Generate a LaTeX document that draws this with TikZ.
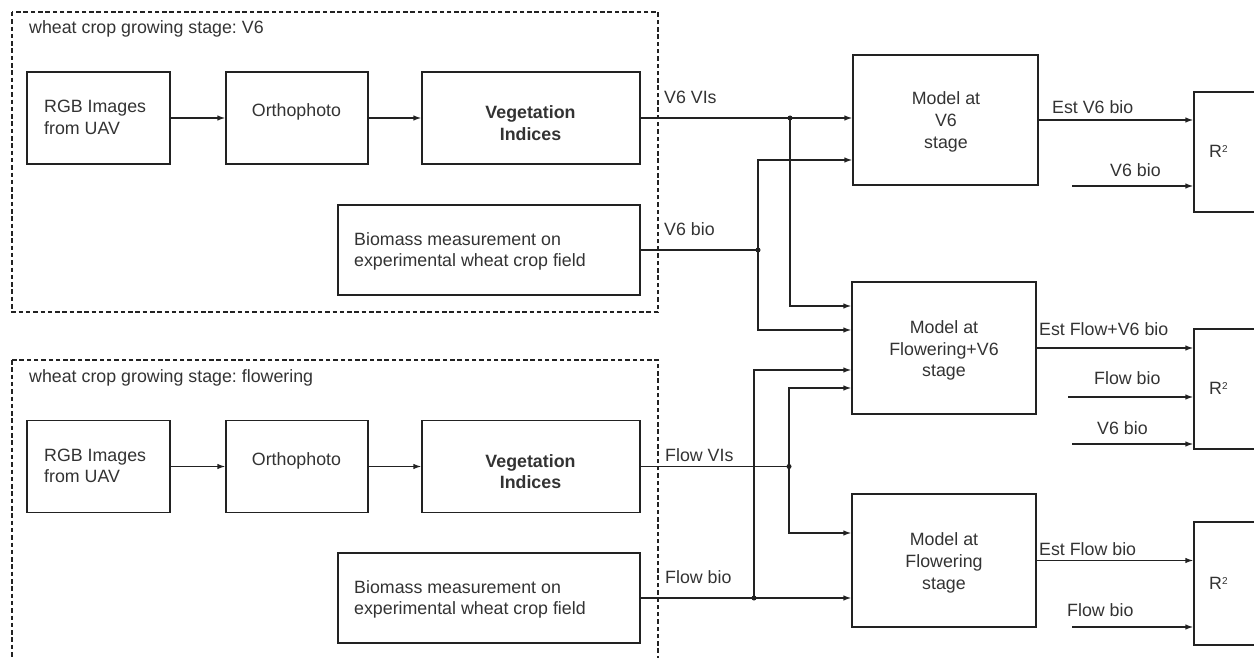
\documentclass[tikz,border=0pt]{standalone}
\usepackage{fontspec}
\setmainfont{Liberation Sans}
\usetikzlibrary{arrows.meta}
\definecolor{txtc}{HTML}{333333}
\definecolor{linec}{HTML}{222222}
\newcommand{\mytabc}[1]{\begin{tabular}[t]{@{}c@{}}#1\end{tabular}}
\newcommand{\mytabl}[1]{\begin{tabular}[t]{@{}l@{}}#1\end{tabular}}
\newcommand{\rsq}{R\raisebox{5pt}{\fontsize{10}{10}\selectfont 2}}
\frenchspacing
\begin{document}
\frenchspacing
\begin{tikzpicture}[x=1pt,y=-1pt,
  every node/.style={font=\fontsize{17.8}{21.7}\selectfont\frenchspacing, text=txtc},
  box/.style={draw=linec, line width=1.3pt, rectangle, inner sep=0pt},
  arr/.style={draw=linec, line width=1.3pt, -{Latex[length=8pt,width=5.5pt]}},
  ln/.style={draw=linec, line width=1.3pt},
  grp/.style={draw=linec, line width=1.3pt, dash pattern=on 4.5pt off 2.8pt},
  lbl/.style={anchor=base west, inner sep=0pt},
  ttl/.style={anchor=base, inner sep=0pt},
  boldt/.style={font=\fontsize{17.8}{21.7}\selectfont\bfseries}]
\useasboundingbox (0,0) rectangle (1254,658);
\clip (0,0) rectangle (1254,658);
\fill[white] (0,0) rectangle (1254,658);

% group frames
\draw[grp] (12,12) rectangle (658,312);
\draw[grp] (12,360) rectangle (658,720);
\node[lbl] (ttl1) at (29,33.5) {wheat crop growing stage: V6};
\node[lbl] (ttl2) at (29,382) {wheat crop growing stage: flowering};

% V6 group
\node[box, minimum width=143, minimum height=92] (rgb1) at (98.5,118) {};
\node[box, minimum width=142, minimum height=92] (ortho1) at (297,118) {};
\node[box, minimum width=218, minimum height=92] (vi1) at (531,118) {};
\node[box, minimum width=302, minimum height=90] (bio1) at (489,250) {};
\node[lbl] (rgb1t) at (44,113) {\mytabl{RGB Images\\from UAV}};
\node[ttl] (ortho1t) at (296.5,117) {Orthophoto};
\node[ttl, boldt] (vi1t) at (530.5,119) {\mytabc{Vegetation\\Indices}};
\node[lbl] (bio1t) at (354,245) {\mytabl{Biomass measurement on\\experimental wheat crop field}};

% flowering group
\node[box, minimum width=143, minimum height=92] (rgb2) at (98.5,466.5) {};
\node[box, minimum width=142, minimum height=92] (ortho2) at (297,466.5) {};
\node[box, minimum width=218, minimum height=92] (vi2) at (531,466.5) {};
\node[box, minimum width=302, minimum height=90] (bio2) at (489,598) {};
\node[lbl] (rgb2t) at (44,461) {\mytabl{RGB Images\\from UAV}};
\node[ttl] (ortho2t) at (296.5,465) {Orthophoto};
\node[ttl, boldt] (vi2t) at (530.5,467) {\mytabc{Vegetation\\Indices}};
\node[lbl] (bio2t) at (354,593) {\mytabl{Biomass measurement on\\experimental wheat crop field}};

% models
\node[box, minimum width=185, minimum height=130] (mv6) at (945.5,120) {};
\node[ttl] (mv6t) at (946,105) {\mytabc{Model at\\V6\\stage}};
\node[box, minimum width=184, minimum height=132] (mfv6) at (944,348) {};
\node[ttl] (mfv6t) at (944,333.3) {\mytabc{Model at\\Flowering+V6\\stage}};
\node[box, minimum width=184, minimum height=133] (mfl) at (944,560.5) {};
\node[ttl] (mflt) at (944,545.7) {\mytabc{Model at\\Flowering\\stage}};

% R2 boxes
\node[box, minimum width=120, minimum height=120] (r1) at (1254,152) {};
\node[box, minimum width=120, minimum height=120] (r2) at (1254,389) {};
\node[box, minimum width=120, minimum height=123] (r3) at (1254,583.5) {};
\node[lbl] (r1t) at (1209,157.7) {\rsq};
\node[lbl] (r2t) at (1209,394) {\rsq};
\node[lbl] (r3t) at (1209,589) {\rsq};

% labels
\node[lbl] (l1) at (664,104) {V6 VIs};
\node[lbl] (l2) at (664,235) {V6 bio};
\node[lbl] (l3) at (665,461) {Flow VIs};
\node[lbl] (l4) at (665,583) {Flow bio};
\node[lbl] (l5) at (1052,114) {Est V6 bio};
\node[lbl] (l6) at (1110,176.7) {V6 bio};
\node[lbl] (l7) at (1039,335) {Est Flow+V6 bio};
\node[lbl] (l8) at (1094,384.3) {Flow bio};
\node[lbl] (l9) at (1097,434) {V6 bio};
\node[lbl] (l10) at (1039,555.7) {Est Flow bio};
\node[lbl] (l11) at (1067,616.7) {Flow bio};

% connectors V6 group
\draw[arr] (rgb1) -- (ortho1);
\draw[arr] (ortho1) -- (vi1);
\coordinate (j1) at (790,118);
\draw[arr] (vi1.east) -- (vi1.east -| mv6.west);
\draw[arr] (j1) |- ([yshift=42]mfv6.west);
\coordinate (j2) at (758,250);
\draw[ln] (bio1.east) -- (j2);
\draw[arr] (j2) |- ([yshift=-40]mv6.west);
\draw[arr] (j2) |- ([yshift=18]mfv6.west);

% connectors flowering group
\draw[arr] (rgb2) -- (ortho2);
\draw[arr] (ortho2) -- (vi2);
\coordinate (j3) at (789,466.5);
\draw[ln] (vi2.east) -- (j3);
\draw[arr] (j3) |- ([yshift=-40]mfv6.west);
\draw[arr] (j3) |- ([yshift=27.5]mfl.west);
\coordinate (j4) at (754,598);
\draw[arr] (bio2.east) -- (bio2.east -| mfl.west);
\draw[arr] (j4) |- ([yshift=-22]mfv6.west);

% outputs
\draw[arr] (mv6.east) -- (mv6.east -| r1.west);
\coordinate (s1) at (1072,186);
\draw[arr] (s1) -- (s1 -| r1.west);
\draw[arr] (mfv6.east) -- (mfv6.east -| r2.west);
\coordinate (s2) at (1068,397);
\draw[arr] (s2) -- (s2 -| r2.west);
\coordinate (s3) at (1072,444);
\draw[arr] (s3) -- (s3 -| r2.west);
\draw[arr] (mfl.east) -- (mfl.east -| r3.west);
\coordinate (s4) at (1072,627);
\draw[arr] (s4) -- (s4 -| r3.west);

% junction dots
\foreach \j in {j1,j2,j3,j4} \fill[linec] (\j) circle (2.5pt);
\end{tikzpicture}
\end{document}
